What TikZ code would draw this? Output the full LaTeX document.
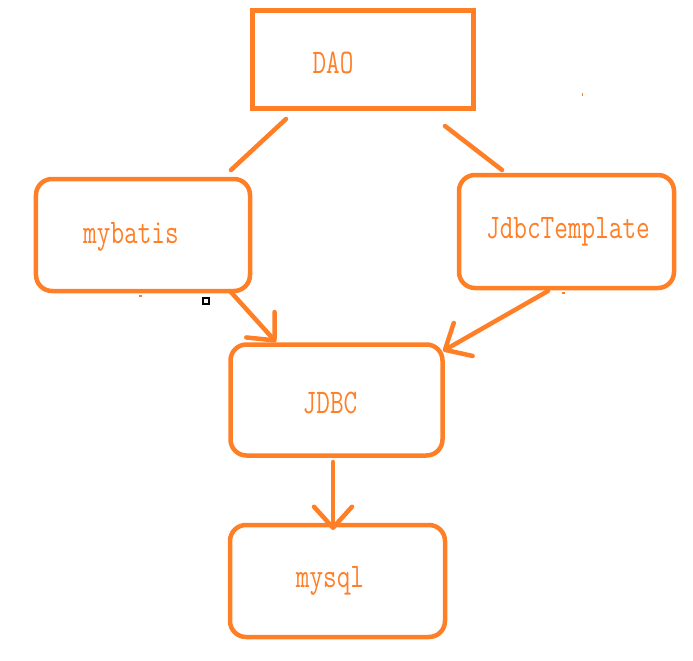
\documentclass[tikz,border=0pt]{standalone}
\usepackage{fontspec}
\usetikzlibrary{arrows.meta}
\definecolor{boxorange}{RGB}{255,127,39}

\begin{document}
\begin{tikzpicture}[x=1bp, y=-1bp,
  layer/.style={draw=boxorange, line width=4.5bp, rounded corners=16bp, inner sep=0pt,
    minimum width=214bp, minimum height=112bp},
  tag/.style={text=boxorange, inner sep=0pt, font=\ttfamily\fontsize{26.5bp}{27bp}\selectfont},
  link/.style={draw=boxorange, line width=4.5bp, line cap=round},
  flow/.style={link, -{Straight Barb[length=21bp, width=38bp, round]}}]

  \useasboundingbox (0,0) rectangle (693,661);

  % boxes
  \node[layer, rounded corners=0pt, line width=5bp, minimum width=221bp, minimum height=98bp] (dao) at (363,59.5) {};
  \node[layer] (mybatis) at (143,235) {};
  \node[layer, minimum width=215bp, minimum height=113bp] (jdbctpl) at (566.5,231.5) {};
  \node[layer, minimum width=212bp, minimum height=111bp] (jdbc) at (336.5,400) {};
  \node[layer, minimum width=215bp] (mysql) at (337.5,581) {};

  % texts
  \node[tag] (dao-txt) at (333,63) {\scalebox{1}[1.3]{DAO}};
  \node[tag] (mybatis-txt) at (131,237) {\scalebox{1}[1.3]{mybatis}};
  \node[tag] (jdbctpl-txt) at (568,232) {\scalebox{1}[1.3]{JdbcTemplate}};
  \node[tag] (jdbc-txt) at (330,403) {\scalebox{1}[1.3]{JDBC}};
  \node[tag] (mysql-txt) at (330,581) {\scalebox{1}[1.3]{mysql}};

  % connector ends
  \coordinate (dao-l) at (286,119);
  \coordinate (mybatis-in) at (231,170);
  \coordinate (dao-r) at (445,126);
  \coordinate (jdbctpl-in) at (502,170);
  \coordinate (mybatis-out) at (230,291);
  \coordinate (jdbc-in-l) at (276,342);
  \coordinate (jdbctpl-out) at (548,291);
  \coordinate (jdbc-in-r) at (443,351);
  \coordinate (jdbc-out) at (333,462);
  \coordinate (mysql-in) at (333,530);

  \draw[link] (dao-l) -- (mybatis-in);
  \draw[link] (dao-r) -- (jdbctpl-in);
  \draw[flow] (mybatis-out) -- (jdbc-in-l);
  \draw[flow] (jdbctpl-out) -- (jdbc-in-r);
  \draw[flow] (jdbc-out) -- (mysql-in);

  % stray marks
  \draw[line width=1.2bp] (203,298) rectangle (209,304);
  \fill[boxorange] (139,295) rectangle (142,297);
  \fill[boxorange] (562,292) rectangle (565,294);
  \fill[boxorange] (582,93) rectangle (583,96);
\end{tikzpicture}
\end{document}
